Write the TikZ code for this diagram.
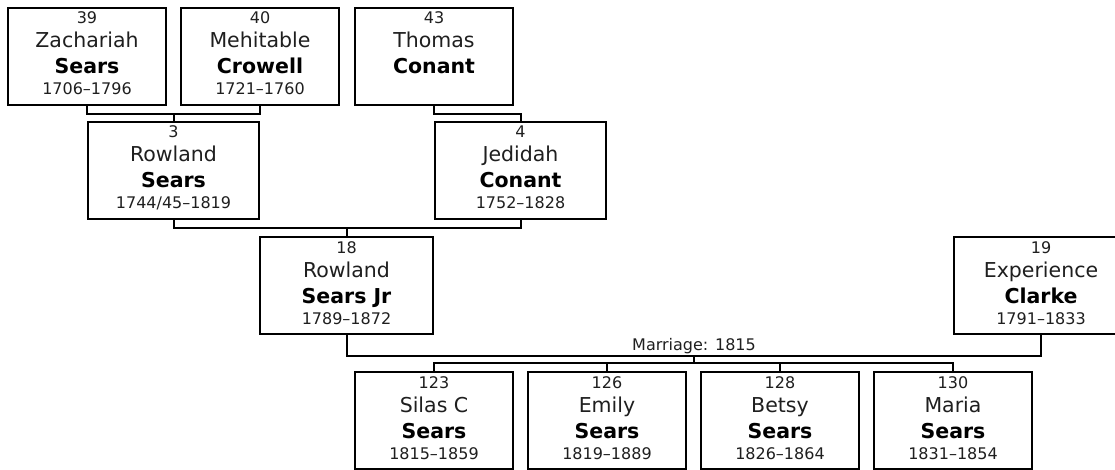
\documentclass[tikz,border=0pt]{standalone}
\usepackage{fontspec}
\setmainfont{DejaVu Sans}
\usetikzlibrary{calc}
\tikzset{
  box/.style={draw=black, line width=2pt, inner sep=0pt, outer sep=0pt, minimum height=97pt, fill=white},
  conn/.style={draw=black, line width=2pt},
  numtxt/.style={anchor=base, inner sep=0pt, text=black!88, font=\fontsize{16}{19}\selectfont},
  nametxt/.style={anchor=base, inner sep=0pt, text=black!88, font=\fontsize{20.5}{24}\selectfont},
  surtxt/.style={anchor=base, inner sep=0pt, text=black, font=\fontsize{20.5}{24}\selectfont\bfseries},
}
\newcommand\personbox[7]{%
  \node[box, minimum width=#4pt, anchor=north] (#1) at (#2,#3) {};
  \node[numtxt] (#1-num) at ($(#1.north)+(0,16)$) {#5};
  \node[nametxt] (#1-first) at ($(#1.north)+(0,40)$) {#6};
  \node[surtxt] (#1-last) at ($(#1.north)+(0,66)$) {#7};
}
\newcommand\persondates[2]{%
  \node[numtxt] (#1-dates) at ($(#1.north)+(0,87)$) {#2};
}
\begin{document}
\begin{tikzpicture}[x=1pt,y=-1pt]
\useasboundingbox (0,0) rectangle (1115,470);
\clip (0,0) rectangle (1115,470);
% generation 1
\personbox{p39}{87}{8}{158}{39}{Zachariah}{Sears}
\persondates{p39}{1706–1796}
\personbox{p40}{260}{8}{158}{40}{Mehitable}{Crowell}
\persondates{p40}{1721–1760}
\personbox{p43}{434}{8}{158}{43}{Thomas}{Conant}
% generation 2
\personbox{p3}{173.5}{122}{171}{3}{Rowland}{Sears}
\persondates{p3}{1744/45–1819}
\personbox{p4}{520.5}{122}{171}{4}{Jedidah}{Conant}
\persondates{p4}{1752–1828}
% generation 3
\personbox{p18}{346.5}{237}{173}{18}{Rowland}{Sears Jr}
\persondates{p18}{1789–1872}
\personbox{p19}{1041}{237}{174}{19}{Experience}{Clarke}
\persondates{p19}{1791–1833}
% children
\personbox{c1}{434}{372}{158}{123}{Silas C}{Sears}
\persondates{c1}{1815–1859}
\personbox{c2}{607}{372}{158}{126}{Emily}{Sears}
\persondates{c2}{1819–1889}
\personbox{c3}{780}{372}{158}{128}{Betsy}{Sears}
\persondates{c3}{1826–1864}
\personbox{c4}{953}{372}{158}{130}{Maria}{Sears}
\persondates{c4}{1831–1854}
% junctions
\coordinate (j1) at (173.5,114);
\coordinate (j2) at (520.5,114);
\coordinate (j3) at (346.5,228);
\coordinate (j4) at (694,355.5);
\coordinate (j5) at (694,363);
% connectors
\draw[conn] (p39.south) |- (j1) -| (p40.south);
\draw[conn] (j1) -- (p3.north);
\draw[conn] (p43.south) |- (j2) -- (p4.north);
\draw[conn] (p3.south) |- (j3) -| (p4.south);
\draw[conn] (j3) -- (p18.north);
\draw[conn] (p18.south) |- (j4) -| (p19.south);
\draw[conn] (j4) -- (j5);
\draw[conn] (c1.north) |- (j5) -| (c4.north);
\draw[conn] (c2.north) -- (c2.north |- j5);
\draw[conn] (c3.north) -- (c3.north |- j5);
\node[numtxt] (marr) at (694,350.5) {Marriage: 1815};
\end{tikzpicture}
\end{document}
